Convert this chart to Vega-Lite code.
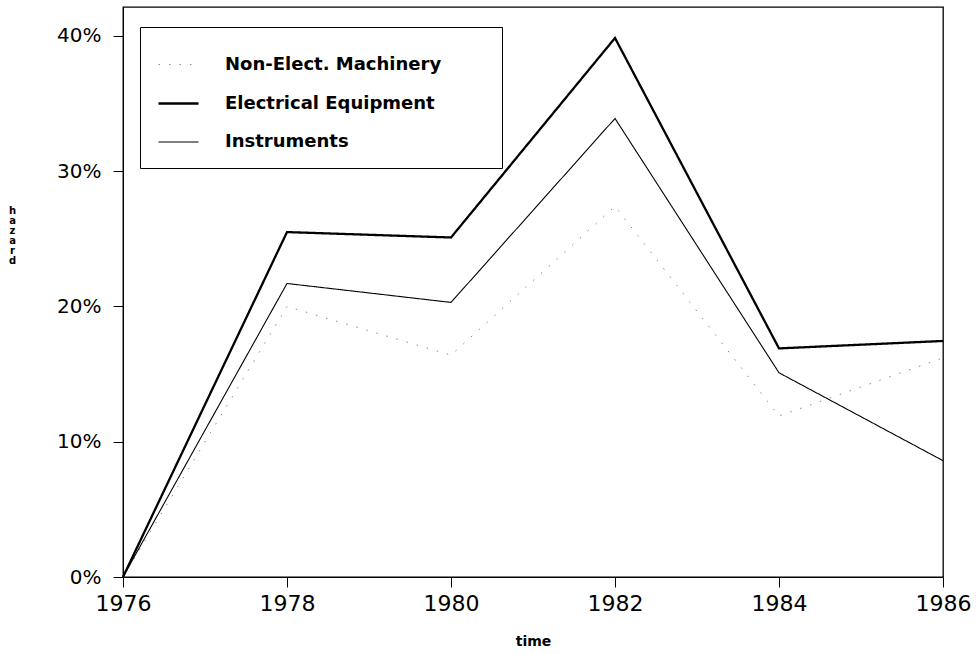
{
  "$schema": "https://vega.github.io/schema/vega-lite/v6.json",
  "width": 820,
  "height": 570,
  "autosize": {"type": "none"},
  "padding": {"left": 123, "top": 7, "right": 37, "bottom": 76},
  "background": "white",
  "config": {
    "view": {"stroke": "black", "strokeWidth": 1.3},
    "font": "DejaVu Sans"
  },
  "data": {
    "values": [
      {"year": 1976, "series": "Non-Elect. Machinery", "hazard": 0.0},
      {"year": 1978, "series": "Non-Elect. Machinery", "hazard": 0.200},
      {"year": 1980, "series": "Non-Elect. Machinery", "hazard": 0.164},
      {"year": 1982, "series": "Non-Elect. Machinery", "hazard": 0.274},
      {"year": 1984, "series": "Non-Elect. Machinery", "hazard": 0.119},
      {"year": 1986, "series": "Non-Elect. Machinery", "hazard": 0.162},
      {"year": 1976, "series": "Electrical Equipment", "hazard": 0.0},
      {"year": 1978, "series": "Electrical Equipment", "hazard": 0.255},
      {"year": 1980, "series": "Electrical Equipment", "hazard": 0.251},
      {"year": 1982, "series": "Electrical Equipment", "hazard": 0.3985},
      {"year": 1984, "series": "Electrical Equipment", "hazard": 0.169},
      {"year": 1986, "series": "Electrical Equipment", "hazard": 0.1745},
      {"year": 1976, "series": "Instruments", "hazard": 0.0},
      {"year": 1978, "series": "Instruments", "hazard": 0.217},
      {"year": 1980, "series": "Instruments", "hazard": 0.203},
      {"year": 1982, "series": "Instruments", "hazard": 0.339},
      {"year": 1984, "series": "Instruments", "hazard": 0.151},
      {"year": 1986, "series": "Instruments", "hazard": 0.086}
    ]
  },
  "mark": {"type": "line", "strokeJoin": "miter"},
  "encoding": {
    "x": {
      "field": "year",
      "type": "quantitative",
      "scale": {"domain": [1976, 1986], "nice": false, "zero": false},
      "axis": {
        "values": [1976, 1978, 1980, 1982, 1984, 1986],
        "format": "d",
        "title": "time",
        "titleFont": "DejaVu Sans",
        "titleFontWeight": "bold",
        "titleFontSize": 14,
        "titleBaseline": "middle",
        "titleY": 64,
        "titleColor": "black",
        "labelFontSize": 22,
        "labelColor": "black",
        "labelPadding": 6,
        "labelFlush": false,
        "labelOverlap": false,
        "labelBound": false,
        "tickSize": 10,
        "tickColor": "black",
        "domainColor": "black",
        "grid": false
      }
    },
    "y": {
      "field": "hazard",
      "type": "quantitative",
      "scale": {"domain": [0, 0.4214], "nice": false},
      "axis": {
        "values": [0, 0.1, 0.2, 0.3, 0.4],
        "format": ".0%",
        "title": ["h", "a", "z", "a", "r", "d"],
        "titleAngle": 0,
        "titleX": -111,
        "titleY": 198,
        "titleAlign": "center",
        "titleBaseline": "top",
        "titleLineHeight": 10,
        "titleFontSize": 10,
        "titleFontWeight": "bold",
        "titleColor": "black",
        "labelFontSize": 20,
        "labelColor": "black",
        "labelPadding": 12,
        "labelFlush": false,
        "labelOverlap": false,
        "labelBound": false,
        "tickSize": 10,
        "tickColor": "black",
        "domainColor": "black",
        "grid": false
      }
    },
    "color": {
      "field": "series",
      "type": "nominal",
      "scale": {
        "domain": ["Non-Elect. Machinery", "Electrical Equipment", "Instruments"],
        "range": ["#8a8a8a", "black", "black"]
      },
      "legend": {
        "title": "\u00a0",
        "titleOrient": "right",
        "titlePadding": 44,
        "orient": "none",
        "legendX": 17,
        "legendY": 20,
        "direction": "vertical",
        "padding": 17,
        "strokeColor": "black",
        "fillColor": "white",
        "symbolType": "stroke",
        "symbolSize": 1600,
        "labelFont": "DejaVu Sans",
        "labelFontWeight": "bold",
        "labelFontSize": 18,
        "labelColor": "black",
        "labelOffset": 25,
        "labelLimit": 400,
        "rowPadding": 8
      }
    },
    "strokeWidth": {
      "field": "series",
      "type": "nominal",
      "scale": {
        "type": "ordinal",
        "domain": ["Non-Elect. Machinery", "Electrical Equipment", "Instruments"],
        "range": [1, 2.3, 1.1]
      },
      "legend": null
    },
    "strokeDash": {
      "field": "series",
      "type": "nominal",
      "scale": {
        "domain": ["Non-Elect. Machinery", "Electrical Equipment", "Instruments"],
        "range": [[1.5, 9], [1, 0], [1, 0]]
      },
      "legend": null
    }
  }
}
